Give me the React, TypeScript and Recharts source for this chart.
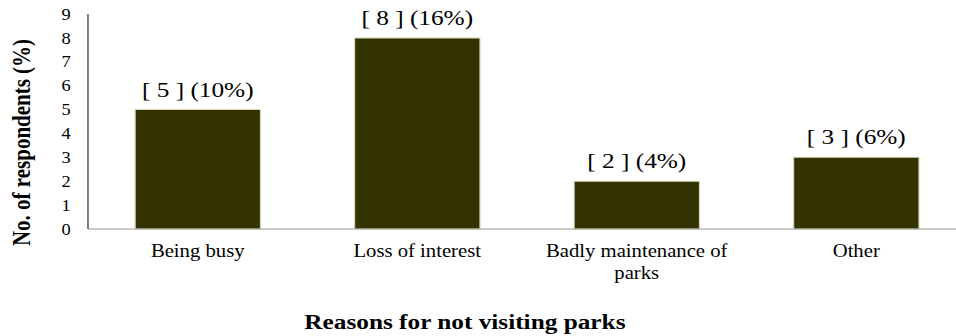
import { BarChart, Bar, XAxis, YAxis, LabelList, Label, Text } from "recharts"

const reasons = ["Being busy", "Loss of interest", "Badly maintenance of parks", "Other"]
const respondents = [5, 8, 2, 3]
const percents = [10, 16, 4, 6]
const yTicks = [0, 1, 2, 3, 4, 5, 6, 7, 8, 9]

const data = reasons.map((reason, i) => ({
  reason,
  count: respondents[i],
  label: `[ ${respondents[i]} ] (${percents[i]}%)`,
}))

const FONT = "'Liberation Serif', 'Times New Roman', serif"

const CategoryTick = (props: any) => {
  const { x, y, payload } = props
  return (
    <Text
      x={x}
      y={y}
      width={170}
      textAnchor="middle"
      verticalAnchor="start"
      lineHeight="1.25em"
      fontFamily={FONT}
      fontSize={18}
      fill="#000"
    >
      {payload.value}
    </Text>
  )
}

const YTitle = (props: any) => {
  const { viewBox } = props
  const cx = viewBox.x + 19
  const cy = viewBox.y + viewBox.height / 2 + 21
  return (
    <text
      x={cx}
      y={cy}
      transform={`rotate(-90 ${cx} ${cy})`}
      textAnchor="middle"
      dominantBaseline="central"
      fontFamily={FONT}
      fontWeight="bold"
      fontSize={21}
      fill="#000"
    >
      No. of respondents (%)
    </text>
  )
}

const XTitle = (props: any) => {
  const { viewBox } = props
  return (
    <text
      x={viewBox.x + viewBox.width / 2 - 54}
      y={329}
      textAnchor="middle"
      fontFamily={FONT}
      fontWeight="bold"
      fontSize={22}
      fill="#000"
    >
      Reasons for not visiting parks
    </text>
  )
}

export default function App() {
  return (
    <div
      style={{
        position: "fixed",
        left: 0,
        top: 0,
        width: 956,
        height: 336,
        overflow: "hidden",
        background: "#fff",
      }}
    >
      <div style={{ width: 845, transform: "scaleX(1.15)", transformOrigin: "0 0" }}>
        <BarChart
          width={845}
          height={336}
          data={data}
          margin={{ top: 14, right: 5, left: 0, bottom: 0 }}
        >
          <XAxis
            dataKey="reason"
            height={107}
            stroke="#9a9a9a"
            tickLine={false}
            tickSize={0}
            tickMargin={15}
            interval={0}
            tick={<CategoryTick />}
          >
            <Label content={<XTitle />} />
          </XAxis>
          <YAxis
            width={76.5}
            domain={[0, 9]}
            ticks={yTicks}
            interval={0}
            stroke="#222"
            tickLine={false}
            tickSize={0}
            tickMargin={15}
            tick={{ fontFamily: FONT, fontSize: 16, fill: "#000" }}
          >
            <Label content={<YTitle />} />
          </YAxis>
          <Bar
            dataKey="count"
            fill="#333300"
            stroke="#d8d5bd"
            strokeWidth={1}
            barSize={109}
            isAnimationActive={false}
          >
            <LabelList
              dataKey="label"
              position="top"
              offset={13}
              fontFamily={FONT}
              fontSize={22}
              fill="#000"
            />
          </Bar>
        </BarChart>
      </div>
    </div>
  )
}
